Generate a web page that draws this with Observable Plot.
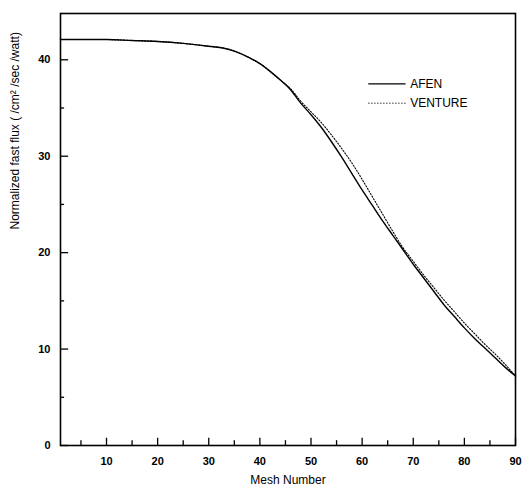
<!DOCTYPE html>
<html>
<head>
<meta charset="utf-8">
<script src="https://cdn.jsdelivr.net/npm/d3@7"></script>
<script src="https://cdn.jsdelivr.net/npm/@observablehq/plot@0.6"></script>
<style>
  html, body { margin: 0; padding: 0; background: #fff; }
  #chart svg { font-family: "Liberation Sans", Arial, sans-serif; }
</style>
</head>
<body>
<div id="chart"></div>
<script>
// Mesh numbers
const mesh = [1, 5, 10, 15, 20, 25, 30, 33, 35, 38, 40, 42, 44, 46, 48, 50, 52, 54, 56, 58, 60, 62, 64, 66, 68, 70, 72, 74, 76, 78, 80, 82, 84, 86, 88, 90];
// AFEN normalized fast flux
const afen = [42.1, 42.1, 42.1, 42.0, 41.9, 41.7, 41.4, 41.2, 40.9, 40.2, 39.6, 38.8, 37.9, 36.9, 35.5, 34.3, 33.0, 31.5, 29.9, 28.2, 26.5, 24.9, 23.3, 21.8, 20.3, 18.8, 17.4, 16.0, 14.6, 13.4, 12.2, 11.1, 10.1, 9.1, 8.1, 7.2];
// VENTURE normalized fast flux
const venture = [42.1, 42.1, 42.1, 42.0, 41.9, 41.7, 41.4, 41.2, 40.9, 40.2, 39.6, 38.8, 37.9, 37.0, 35.7, 34.6, 33.5, 32.2, 30.8, 29.3, 27.6, 25.8, 24.0, 22.2, 20.5, 19.1, 17.7, 16.4, 15.1, 13.9, 12.7, 11.6, 10.5, 9.5, 8.4, 7.2];

const xMajor = [10, 20, 30, 40, 50, 60, 70, 80, 90];
const xMinor = [5, 15, 25, 35, 45, 55, 65, 75, 85];
const yMajor = [0, 10, 20, 30, 40];
const yMinor = [5, 15, 25, 35];

const seriesNames = ["AFEN", "VENTURE"];
const legendY = [37.5, 35.5];
const legendX = [61.3, 68.6, 69.4];
const xTitle = "Mesh Number";
const yTitle = "Normalized fast flux ( /cm\u00B2 /sec /watt)";

const afenData = mesh.map((m, i) => ({x: m, y: afen[i]}));
const ventData = mesh.map((m, i) => ({x: m, y: venture[i]}));

const chart = Plot.plot({
  width: 523,
  height: 493,
  marginLeft: 60,
  marginRight: 8,
  marginTop: 13,
  marginBottom: 48,
  style: {fontFamily: "'Liberation Sans', Arial, sans-serif", color: "#000", background: "#fff"},
  x: {domain: [1, 90]},
  y: {domain: [0, 44.8]},
  marks: [
    Plot.axisX(xMajor, {tickSize: 0, tickPadding: 12, fontSize: 11, fontWeight: "bold", label: null}),
    Plot.axisY(yMajor, {tickSize: 0, tickPadding: 10, fontSize: 11, fontWeight: "bold", label: null}),
    Plot.text([xTitle], {text: d => d, frameAnchor: "bottom", dy: 38, fontSize: 12, fill: "#000"}),
    Plot.text([yTitle], {text: d => d, frameAnchor: "left", dx: -45, rotate: -90, fontSize: 12, fill: "#000"}),
    Plot.ruleX(xMajor, {x: d => d, y1: 0, y2: 0.75, stroke: "#000", strokeWidth: 1.3}),
    Plot.ruleX(xMinor, {x: d => d, y1: 0, y2: 0.5, stroke: "#000", strokeWidth: 1.3}),
    Plot.ruleY(yMajor, {y: d => d, x1: 1, x2: 2.6, stroke: "#000", strokeWidth: 1.3}),
    Plot.ruleY(yMinor, {y: d => d, x1: 1, x2: 1.8, stroke: "#000", strokeWidth: 1.3}),
    Plot.line(ventData, {x: "x", y: "y", stroke: "#000", strokeWidth: 1.1, strokeDasharray: "1.2,1.8", curve: "monotone-x"}),
    Plot.line(afenData, {x: "x", y: "y", stroke: "#000", strokeWidth: 1.4, curve: "monotone-x"}),
    Plot.ruleY([legendY[0]], {y: d => d, x1: legendX[0], x2: legendX[1], stroke: "#000", strokeWidth: 1.3}),
    Plot.ruleY([legendY[1]], {y: d => d, x1: legendX[0], x2: legendX[1], stroke: "#000", strokeWidth: 1, strokeDasharray: "1.2,1.8"}),
    Plot.text(seriesNames, {x: legendX[2], y: (d, i) => legendY[i], text: d => d, textAnchor: "start", fontSize: 12, fill: "#000"}),
    Plot.frame({stroke: "#000", strokeWidth: 1.6})
  ]
});
document.getElementById("chart").appendChild(chart);
</script>
</body>
</html>
